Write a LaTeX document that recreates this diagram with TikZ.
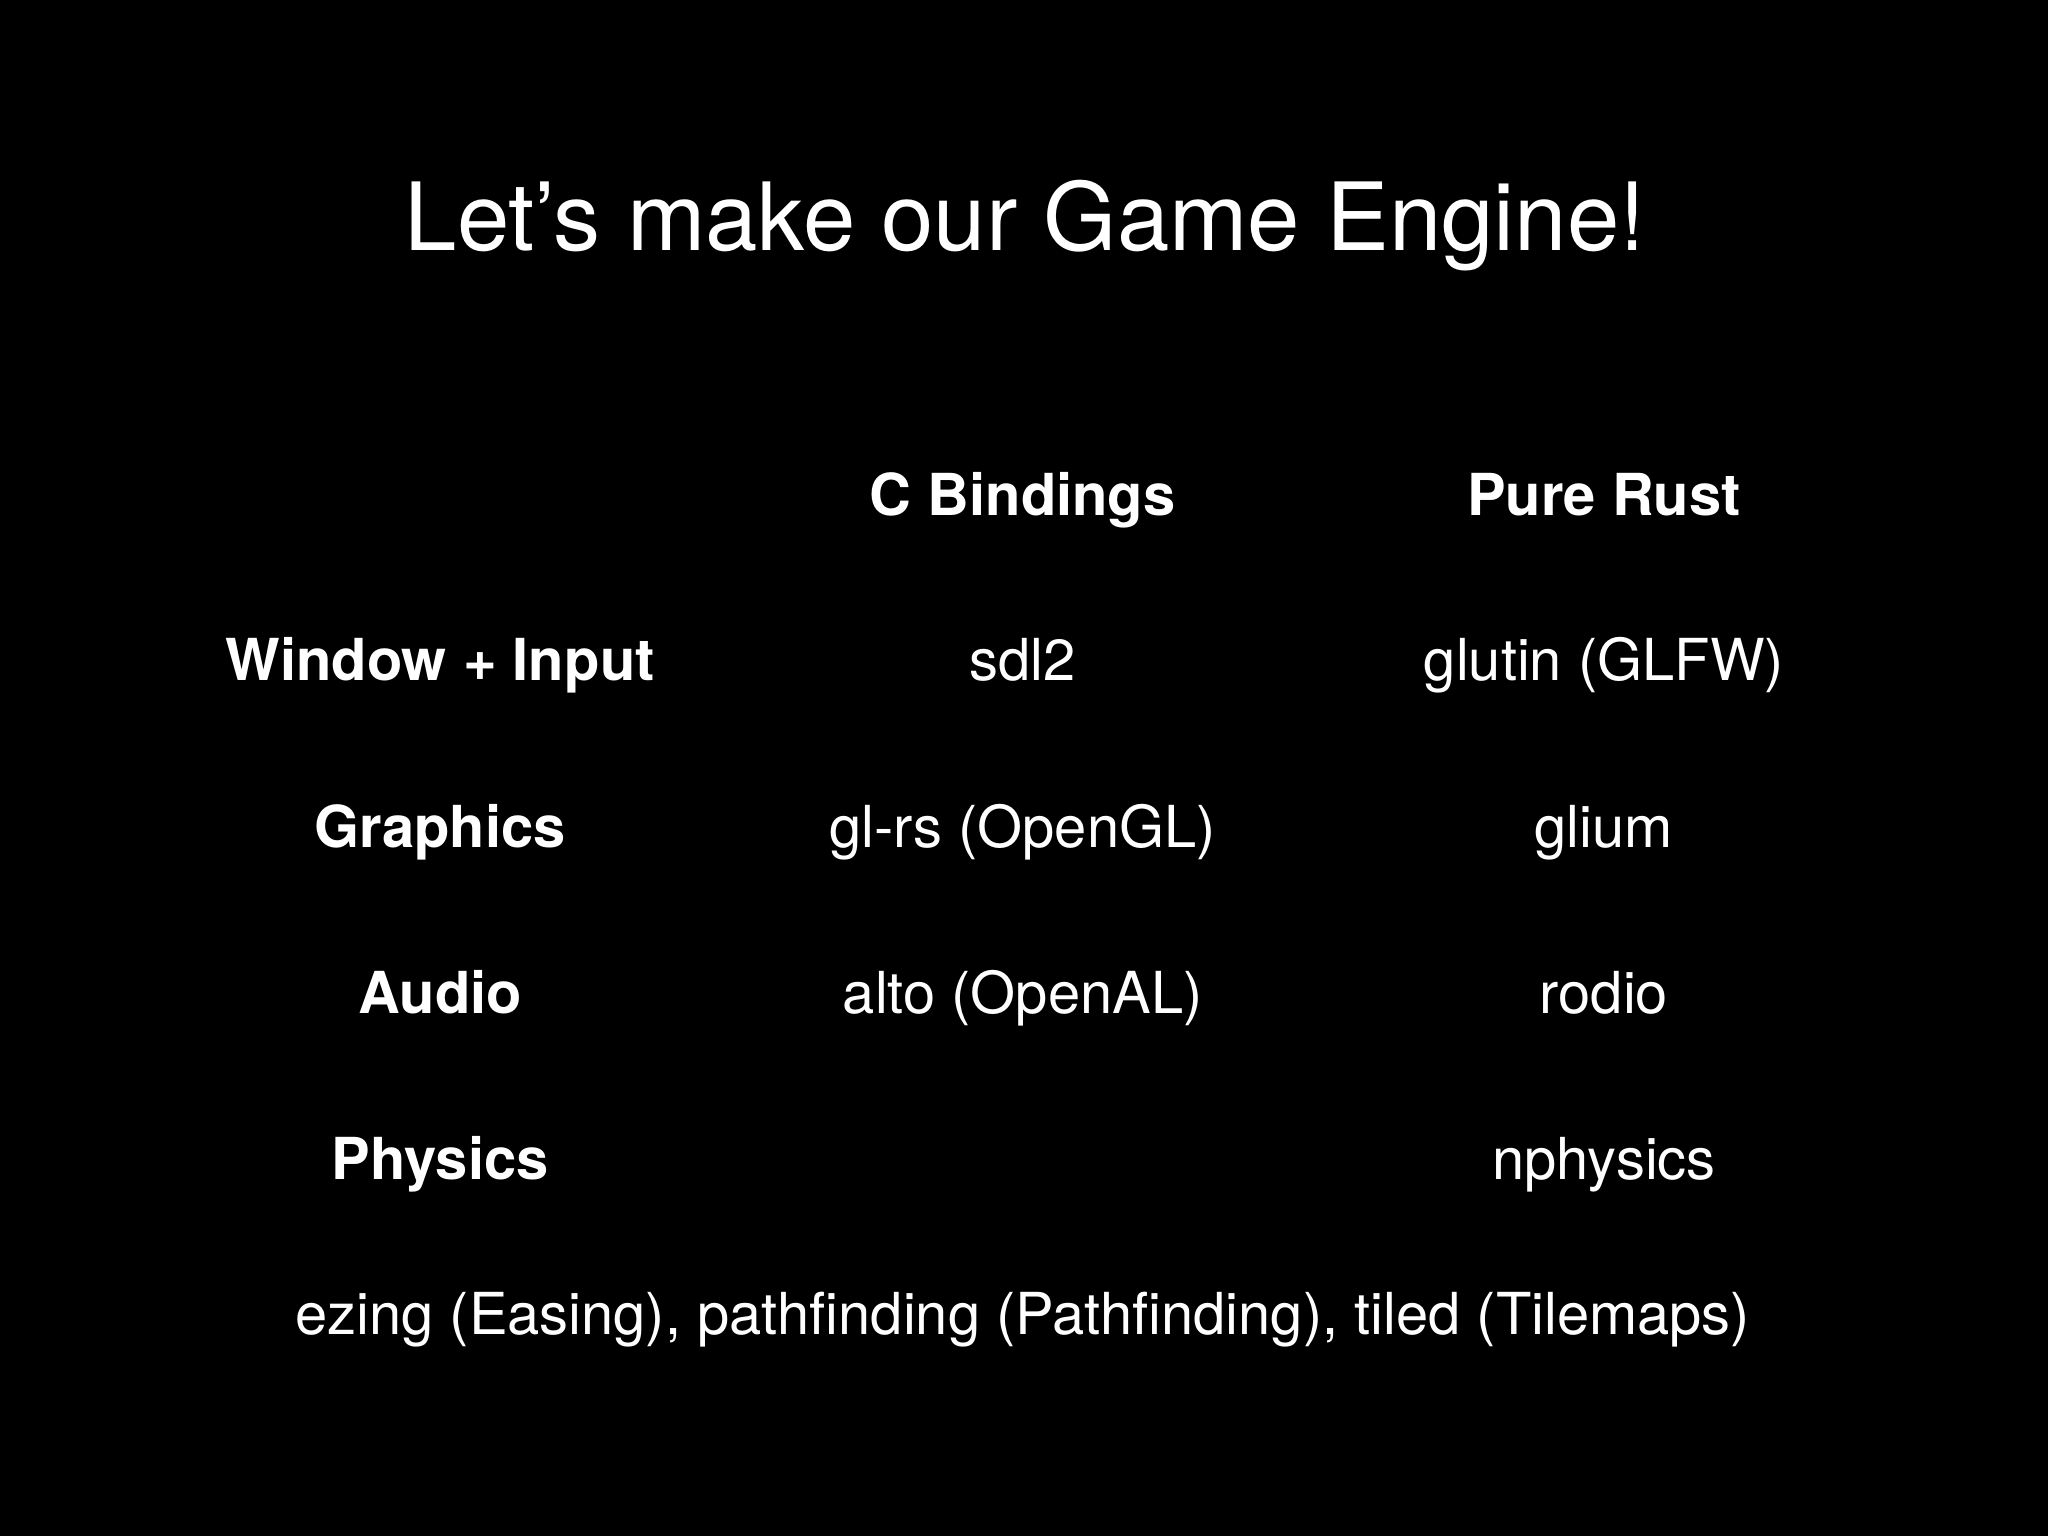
\documentclass[tikz,border=0pt]{standalone}
\usepackage{fontspec}
\setmainfont{TeX Gyre Heros}
\begin{document}
\begin{tikzpicture}[x=0.01cm,y=-0.01cm,
  every node/.style={anchor=base,text=white,inner sep=0pt},
  head/.style={font=\fontsize{12.6pt}{14pt}\selectfont\bfseries},
  cell/.style={font=\fontsize{12.6pt}{14pt}\selectfont}]
\fill[black] (0,0) rectangle (1568,1176);
\useasboundingbox (0,0) rectangle (1568,1176);
\node[font=\fontsize{20.5pt}{24pt}\selectfont] (title) at (785,192) {Let’s make our Game Engine!};
\node[head] (hc) at (783,395) {C Bindings};
\node[head] (hr) at (1228,395) {Pure Rust};
\node[head] (r1) at (337,521) {Window + Input};
\node[cell] (c1) at (783,521) {sdl2};
\node[cell] (p1) at (1228,521) {glutin (GLFW)};
\node[head] (r2) at (337,649) {Graphics};
\node[cell] (c2) at (783,649) {gl-rs (OpenGL)};
\node[cell] (p2) at (1228,649) {glium};
\node[head] (r3) at (337,776) {Audio};
\node[cell] (c3) at (783,776) {alto (OpenAL)};
\node[cell] (p3) at (1228,776) {rodio};
\node[head] (r4) at (337,903) {Physics};
\node[cell] (p4) at (1228,903) {nphysics};
\node[cell] (bot) at (783,1022) {ezing (Easing), pathfinding (Pathfinding), tiled (Tilemaps)};
\end{tikzpicture}
\end{document}
